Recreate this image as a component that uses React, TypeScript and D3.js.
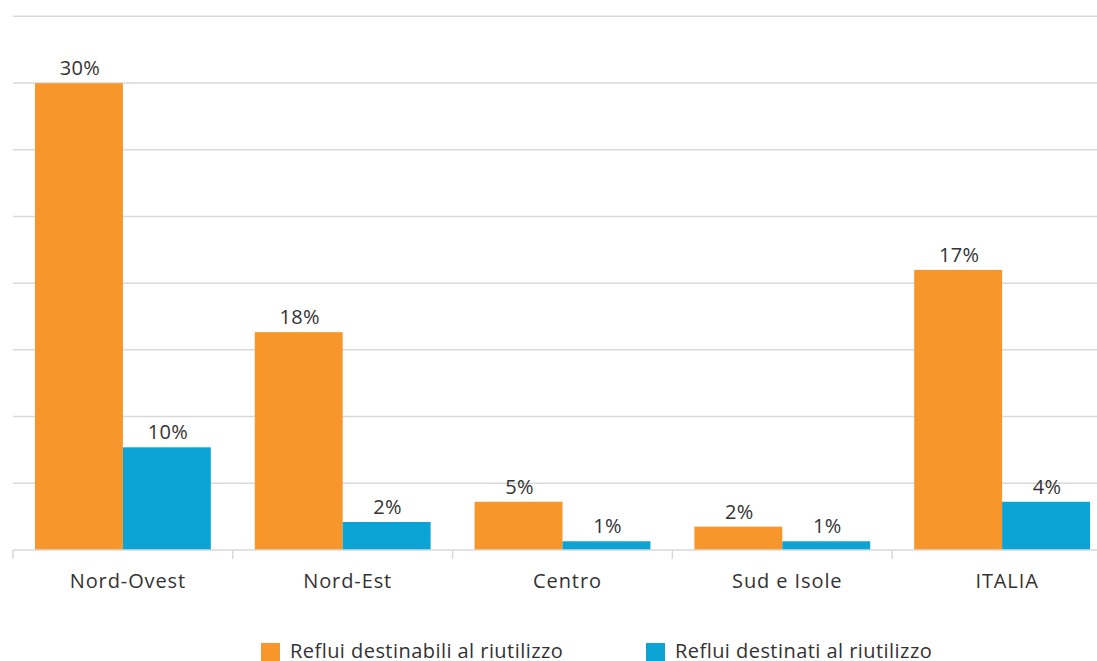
import React from "react";
import * as d3 from "d3";

const categories = ["Nord-Ovest", "Nord-Est", "Centro", "Sud e Isole", "ITALIA"];
const seriesNames = ["Reflui destinabili al riutilizzo", "Reflui destinati al riutilizzo"];
// bar heights (percent)
const destinabili = [30, 14, 3.1, 1.5, 18];
const destinati = [6.6, 1.8, 0.56, 0.56, 3.1];
// value labels as printed in the picture
const destinabiliLabels = ["30%", "18%", "5%", "2%", "17%"];
const destinatiLabels = ["10%", "2%", "1%", "1%", "4%"];
const colors = ["#F7962A", "#0CA4D4"];
const yMax = 34.3;
const gridCount = 8;

export default function App() {
  const W = 1097, H = 661;
  const left = 13, step = 219.8, base = 550, top = 16.3;
  const x0 = d3.scaleBand<string>().domain(categories).range([left, left + step * categories.length]).padding(0);
  const x1 = d3.scaleBand<number>().domain([0, 1]).range([0, x0.bandwidth()]).paddingInner(0).paddingOuter(0.25);
  const y = d3.scaleLinear().domain([0, yMax]).range([base, top]);
  const gridVals = d3.range(1, gridCount + 1).map((i) => (i * yMax) / gridCount);
  const series = [destinabili, destinati];
  const labels = [destinabiliLabels, destinatiLabels];
  const font = "'Open Sans', sans-serif";
  const txt = "#333333";
  const boundaries = d3.range(categories.length + 1).map((i) => left + i * x0.step());
  return (
    <svg width={W} height={H} style={{ position: "absolute", left: 0, top: 0 }} fontFamily={font}>
      <rect width={W} height={H} fill="#fff" />
      {gridVals.map((v, i) => (
        <line key={i} x1={left} x2={W} y1={y(v)} y2={y(v)} stroke="#d9d9d9" strokeWidth={1.5} />
      ))}
      {series.map((vals, s) =>
        categories.map((c, i) => {
          const bx = (x0(c) as number) + (x1(s) as number);
          const by = y(vals[i]);
          return (
            <g key={`${s}-${i}`}>
              <rect x={bx} y={by} width={x1.bandwidth()} height={base - by} fill={colors[s]} />
              <text x={bx + x1.bandwidth() / 2 + 1} y={by - 8} textAnchor="middle" fontSize={20} letterSpacing={0.3} fill={txt}>
                {labels[s][i]}
              </text>
            </g>
          );
        })
      )}
      <line x1={left} x2={W} y1={base} y2={base} stroke="#d9d9d9" strokeWidth={1.5} />
      {boundaries.map((bx, i) => (
        <line key={i} x1={bx} x2={bx} y1={base} y2={base + 9} stroke="#d9d9d9" strokeWidth={1.5} />
      ))}
      {categories.map((c) => (
        <text key={c} x={(x0(c) as number) + x0.bandwidth() / 2 + 5} y={588} textAnchor="middle" fontSize={20} letterSpacing={0.9} fill={txt}>
          {c}
        </text>
      ))}
      {seriesNames.map((n, i) => {
        const lx = [261, 646][i];
        return (
          <g key={n}>
            <rect x={lx} y={643} width={19} height={18} fill={colors[i]} />
            <text x={lx + 29} y={658} fontSize={20} letterSpacing={0.45} fill={txt}>
              {n}
            </text>
          </g>
        );
      })}
    </svg>
  );
}
